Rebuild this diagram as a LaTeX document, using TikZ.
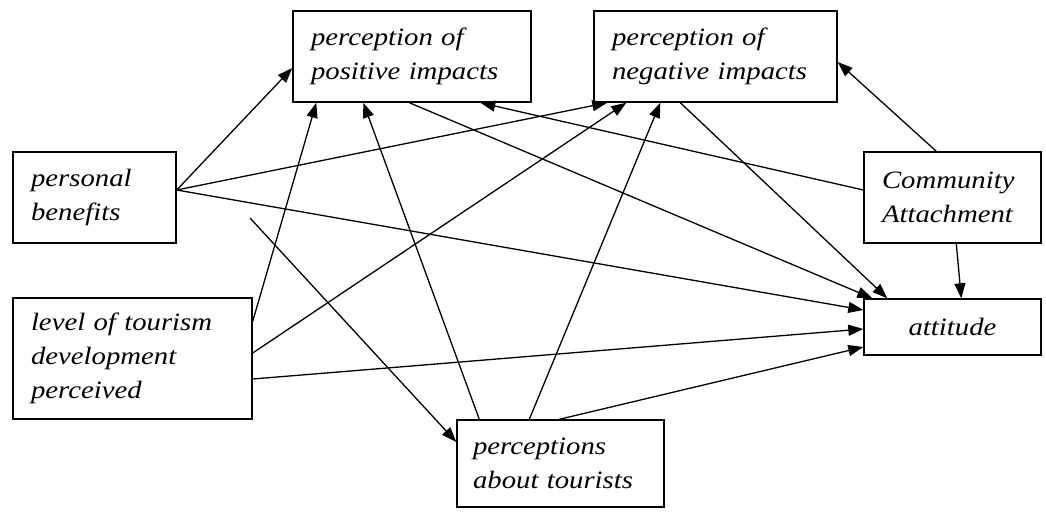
\documentclass[tikz,border=0pt]{standalone}
\usepackage{fontspec}
\setmainfont{Liberation Serif}[FakeStretch=1.15]
\usetikzlibrary{arrows.meta}

\tikzset{
  factor/.style={draw=black, line width=1.4pt, rectangle, inner ysep=0pt,
    font=\fontsize{25}{34}\selectfont\itshape, align=left},
  link/.style={line width=1.3pt, -{Triangle[length=15pt,width=11pt]}}
}

\begin{document}
\begin{tikzpicture}[x=1pt, y=-1pt]
\useasboundingbox (0,0) rectangle (1046,511);

% constructs
\node[factor, minimum width=163pt, minimum height=91pt, text width=127pt, inner xsep=18pt]
  (pb) at (94.5,197.5) {personal\\benefits};
\node[factor, minimum width=239pt, minimum height=121pt, text width=203pt, inner xsep=18pt]
  (lev) at (132.5,358.5) {level of tourism\\development\\perceived};
\node[factor, minimum width=238pt, minimum height=91pt, text width=202pt, inner xsep=18pt]
  (pos) at (412,56.5) {perception of\\positive impacts};
\node[factor, minimum width=243pt, minimum height=91pt, text width=207pt, inner xsep=18pt]
  (neg) at (715.5,56.5) {perception of\\negative impacts};
\node[factor, minimum width=177pt, minimum height=91pt, text width=141pt, inner xsep=18pt]
  (ca) at (952.5,197.5) {Community\\Attachment};
\node[factor, minimum width=177pt, minimum height=56pt, align=center]
  (att) at (952.5,327) {attitude};
\node[factor, minimum width=207pt, minimum height=87pt, text width=175pt, inner xsep=16pt]
  (tour) at (560.5,463.5) {perceptions\\about tourists};

\coordinate (free) at (250,218);

% paths
\draw[link] ([yshift=7.5pt]pb.east) -- ([yshift=-11.5pt]pos.west);
\draw[link] ([yshift=7.5pt]pb.east) -- ([xshift=14pt]neg.south west);
\draw[link] ([yshift=7.5pt]pb.east) -- ([yshift=17pt]att.west);
\draw[link] (free) -- ([yshift=21.5pt]tour.west);

\draw[link] ([yshift=-24pt]lev.north east) -- ([xshift=24pt]pos.south west);
\draw[link] ([yshift=5.5pt]lev.east) -- ([xshift=33pt]neg.south west);
\draw[link] ([yshift=-20.5pt]lev.east) -- ([yshift=-2pt]att.west);

\draw[link] ([xshift=117pt]pos.south west) -- ([xshift=9pt]att.north west);
\draw[link] ([xshift=87pt]neg.south west) -- ([xshift=24pt]att.north west);

\draw[link] ([xshift=23pt]tour.north west) -- ([xshift=71pt]pos.south west);
\draw[link] ([xshift=73pt]tour.north west) -- ([xshift=67pt]neg.south west);
\draw[link] ([xshift=103pt]tour.north west) -- ([yshift=-20pt]att.west);

\draw[link] ([xshift=93pt]ca.south west) -- ([xshift=98pt]att.north west);
\draw[link] ([xshift=73pt]ca.north west) -- ([yshift=-5.5pt]neg.east);
\draw[link] ([yshift=7.5pt]ca.west) -- ([xshift=188pt]pos.south west);
\end{tikzpicture}
\end{document}
